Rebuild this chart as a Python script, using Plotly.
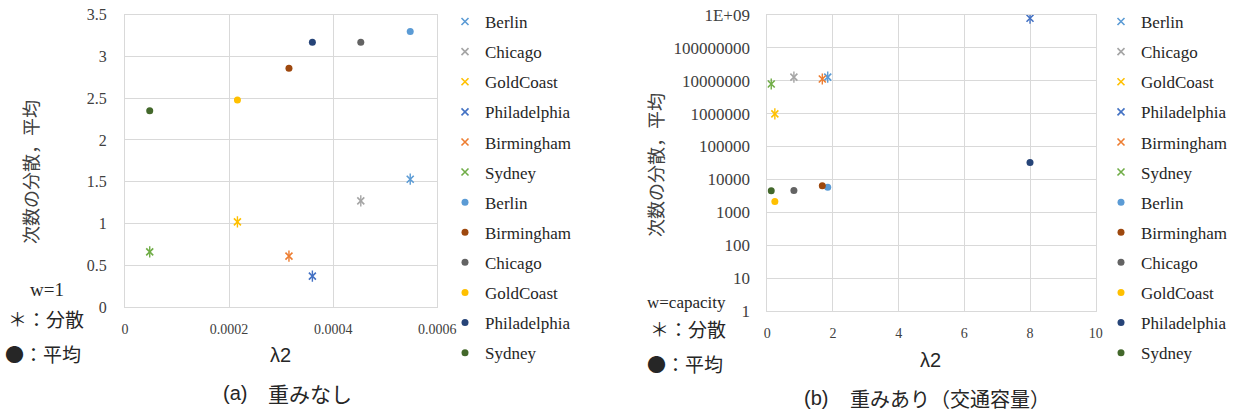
import plotly.graph_objects as go

W, H = 1233, 412

# City order for the data arrays
cities = ["Berlin", "Birmingham", "Chicago", "GoldCoast", "Philadelphia", "Sydney"]

# (a) unweighted, w=1
lambda2_w1 = [0.000548, 0.000315, 0.000453, 0.000216, 0.000360, 0.0000475]
var_w1 = [1.53, 0.61, 1.27, 1.02, 0.37, 0.66]
mean_w1 = [3.30, 2.86, 3.17, 2.48, 3.17, 2.35]

# (b) weighted by traffic capacity
lambda2_cap = [1.84, 1.675, 0.81, 0.23, 8.0, 0.12]
var_cap = [1.28e7, 1.12e7, 1.28e7, 9.8e5, 7.8e8, 7.9e6]
mean_cap = [5840, 6450, 4600, 2150, 32800, 4540]

# Legend order of each series group
var_order = ["Berlin", "Chicago", "GoldCoast", "Philadelphia", "Birmingham", "Sydney"]
mean_order = ["Berlin", "Birmingham", "Chicago", "GoldCoast", "Philadelphia", "Sydney"]

var_colors = {"Berlin": "#5B9BD5", "Chicago": "#A5A5A5", "GoldCoast": "#FFC000",
              "Philadelphia": "#4472C4", "Birmingham": "#ED7D31", "Sydney": "#70AD47"}
mean_colors = {"Berlin": "#5B9BD5", "Birmingham": "#9E480E", "Chicago": "#636363",
               "GoldCoast": "#FFC000", "Philadelphia": "#264478", "Sydney": "#43682B"}

y_ticks_w1 = [0, 0.5, 1, 1.5, 2, 2.5, 3, 3.5]
y_ticktext_w1 = ["0", "0.5", "1", "1.5", "2", "2.5", "3", "3.5"]
x_ticks_w1 = [0, 0.0002, 0.0004, 0.0006]
x_ticktext_w1 = ["0", "0.0002", "0.0004", "0.0006"]
y_ticks_cap = [1, 10, 100, 1000, 10000, 100000, 1000000, 10000000, 100000000, 1000000000]
y_ticktext_cap = ["1", "10", "100", "1000", "10000", "100000", "1000000",
                  "10000000", "100000000", "1E+09"]
x_ticks_cap = [0, 2, 4, 6, 8, 10]

SERIF = "Liberation Serif"
SANS = "Liberation Sans"
CJK = "Noto Sans CJK JP"
GRID = "#D9D9D9"


def px(x):
    return x / W


def py(y):
    return 1 - y / H


fig = go.Figure()


def add_panel(xs, vs, ms, xa, ya, legend):
    idx = {c: i for i, c in enumerate(cities)}
    for c in var_order:
        i = idx[c]
        col = var_colors[c]
        fig.add_trace(go.Scatter(
            x=[xs[i]], y=[vs[i]], mode="markers", name=c, legend=legend,
            legendgroup=legend + "v" + c, xaxis=xa, yaxis=ya,
            marker=dict(symbol="x-thin-open", size=7, color=col,
                        line=dict(color=col, width=1.6)),
        ))
        fig.add_trace(go.Scatter(
            x=[xs[i]], y=[vs[i]], mode="markers", showlegend=False,
            legendgroup=legend + "v" + c, xaxis=xa, yaxis=ya, hoverinfo="skip",
            marker=dict(symbol="line-ns-open", size=8, color=col,
                        line=dict(color=col, width=1.4)),
        ))
    for c in mean_order:
        i = idx[c]
        fig.add_trace(go.Scatter(
            x=[xs[i]], y=[ms[i]], mode="markers", name=c, legend=legend,
            legendgroup=legend + "m" + c, xaxis=xa, yaxis=ya,
            marker=dict(symbol="circle", size=7, color=mean_colors[c]),
        ))


add_panel(lambda2_w1, var_w1, mean_w1, "x", "y", "legend")
add_panel(lambda2_cap, var_cap, mean_cap, "x2", "y2", "legend2")

axis_common = dict(showgrid=True, gridcolor=GRID, gridwidth=1, zeroline=False,
                   showline=True, linecolor=GRID, linewidth=1, mirror=True,
                   ticks="", tickmode="array")

legend_common = dict(xanchor="left", yanchor="top",
                     font=dict(family=SERIF, size=17, color="#262626"),
                     tracegroupgap=5, traceorder="grouped", bgcolor="rgba(0,0,0,0)")

fig.update_layout(
    width=W, height=H,
    margin=dict(l=0, r=0, t=0, b=0, autoexpand=False),
    paper_bgcolor="white", plot_bgcolor="white",
    xaxis=dict(domain=[px(125), px(437.3)], range=[0, 0.0006], anchor="y",
               tickvals=x_ticks_w1, ticktext=x_ticktext_w1,
               tickfont=dict(family=SERIF, size=14, color="#404040"),
               ticklabelstandoff=9, **axis_common),
    yaxis=dict(domain=[py(307), py(14.7)], range=[0, 3.5], anchor="x",
               tickvals=y_ticks_w1, ticktext=y_ticktext_w1,
               tickfont=dict(family=SERIF, size=16, color="#404040"),
               ticklabelstandoff=14, **axis_common),
    xaxis2=dict(domain=[px(767.3), px(1095.7)], range=[0, 10], anchor="y2",
                tickvals=x_ticks_cap, ticktext=[str(v) for v in x_ticks_cap],
                tickfont=dict(family=SERIF, size=14, color="#404040"),
                ticklabelstandoff=9, **axis_common),
    yaxis2=dict(domain=[py(311.3), py(14.7)], type="log", range=[0, 9], anchor="x2",
                tickvals=y_ticks_cap, ticktext=y_ticktext_cap,
                tickfont=dict(family=SERIF, size=17, color="#404040"),
                ticklabelstandoff=13, **axis_common),
    legend=dict(x=px(445), y=py(4), **legend_common),
    legend2=dict(x=px(1101), y=py(4), **legend_common),
    showlegend=True,
)

annotations = [
    # axis titles
    dict(x=px(30), y=py(172), text="次数の分散，平均", textangle=-90, xanchor="center",
         font=dict(family=CJK, size=18, color="#404040")),
    dict(x=px(655), y=py(165), text="次数の分散，平均", textangle=-90, xanchor="center",
         font=dict(family=CJK, size=18, color="#404040")),
    dict(x=px(280), y=py(355), text="λ2", xanchor="center",
         font=dict(family=SANS, size=20, color="#262626")),
    dict(x=px(930), y=py(360), text="λ2", xanchor="center",
         font=dict(family=SANS, size=20, color="#262626")),
    # weight notes
    dict(x=px(28), y=py(289), text="w=1", xanchor="left",
         font=dict(family=SERIF, size=19, color="#262626")),
    dict(x=px(6), y=py(318), text="＊：分散", xanchor="left",
         font=dict(family=CJK, size=19, color="#262626")),
    dict(x=px(3), y=py(353), text="●：平均", xanchor="left",
         font=dict(family=CJK, size=19, color="#262626")),
    dict(x=px(645), y=py(302), text="w=capacity", xanchor="left",
         font=dict(family=SERIF, size=17, color="#262626")),
    dict(x=px(648), y=py(328), text="＊：分散", xanchor="left",
         font=dict(family=CJK, size=19, color="#262626")),
    dict(x=px(645), y=py(363), text="●：平均", xanchor="left",
         font=dict(family=CJK, size=19, color="#262626")),
    # captions
    dict(x=px(221), y=py(393), text="(a)", xanchor="left",
         font=dict(family=SANS, size=20, color="#262626")),
    dict(x=px(266), y=py(393), text="重みなし", xanchor="left",
         font=dict(family=CJK, size=21, color="#262626")),
    dict(x=px(802), y=py(398), text="(b)", xanchor="left",
         font=dict(family=SANS, size=20, color="#262626")),
    dict(x=px(848), y=py(398), text="重みあり（交通容量）", xanchor="left",
         font=dict(family=CJK, size=20, color="#262626")),
]
for a in annotations:
    a.update(xref="paper", yref="paper", showarrow=False, yanchor="middle")
fig.update_layout(annotations=annotations)

fig.write_html("out.html")
